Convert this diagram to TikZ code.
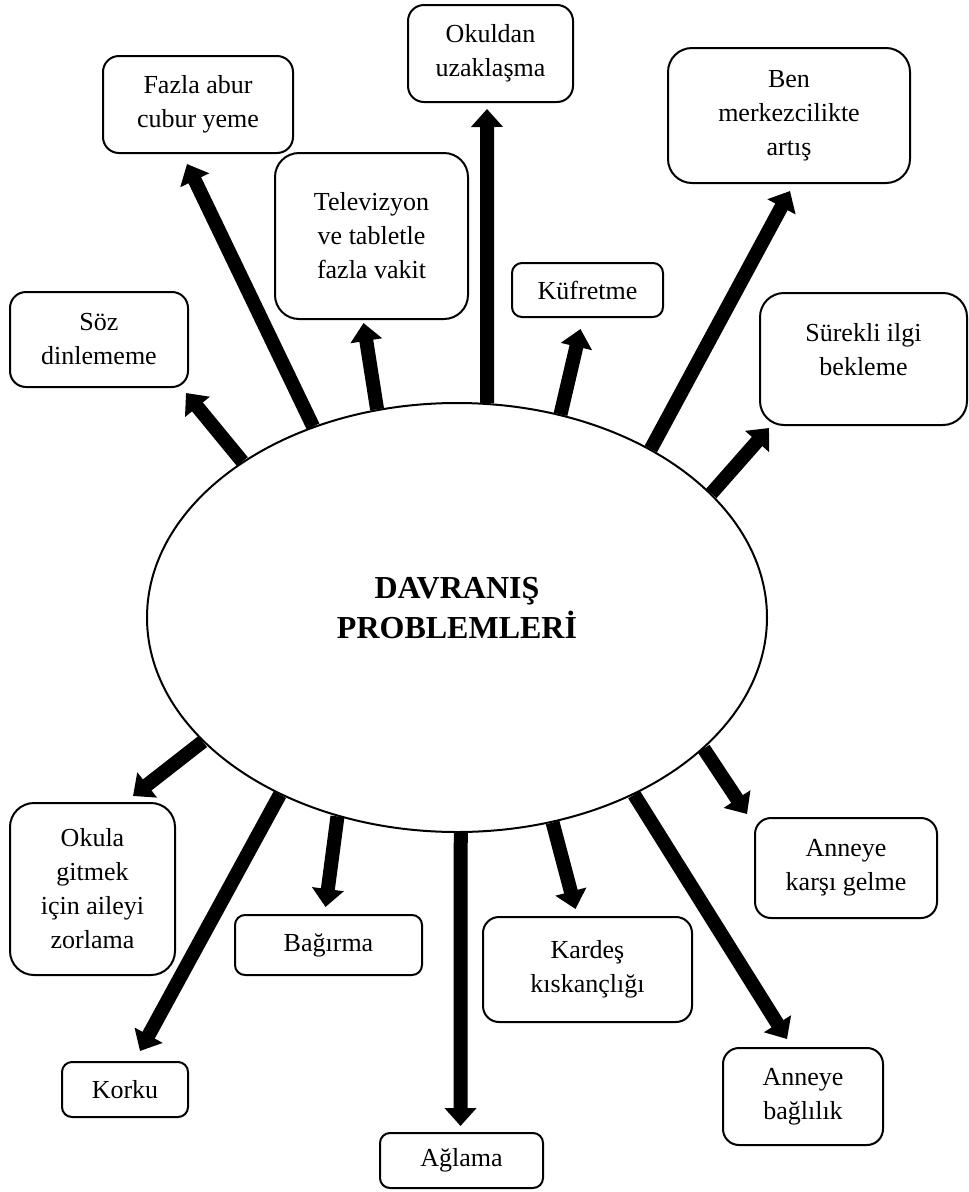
\documentclass[tikz,border=0pt]{standalone}
\usepackage{fontspec}
\setmainfont{Liberation Serif}
\usetikzlibrary{shapes.geometric,arrows.meta,backgrounds}

\begin{document}
\begin{tikzpicture}[x=1pt,y=-1pt,
        box/.style={draw, line width=2pt, rounded corners=16pt, align=center, inner sep=0pt, font=\fontsize{26}{34}\selectfont},
        bigbox/.style={box, rounded corners=24pt},
        smallbox/.style={box, rounded corners=10pt},
        arr/.style={-{Triangle[length=18pt,width=31pt]}, line width=14pt}
    ]
        \useasboundingbox (0,0) rectangle (969,1192);

        % Centre
        \node[ellipse, draw, line width=2pt, fill=white, minimum width=620pt, minimum height=429pt, inner sep=0pt, align=center, font=\fontsize{32}{40}\selectfont\bfseries] (davranis) at (457,617.5) {DAVRANIŞ\\PROBLEMLERİ\\[-20pt]\mbox{}};

        % Upper boxes
        \node[box, minimum width=178pt, minimum height=95pt] (soz) at (99,339.5) {Söz\\dinlememe};
        \node[box, minimum width=190pt, minimum height=97pt] (fazla) at (198,104.5) {Fazla abur\\cubur yeme};
        \node[bigbox, minimum width=193pt, minimum height=166pt] (tv) at (371.5,236) {Televizyon\\ve tabletle\\fazla vakit};
        \node[box, minimum width=165pt, minimum height=97pt] (okuldan) at (490.5,53.5) {Okuldan\\uzaklaşma};
        \node[smallbox, minimum width=151pt, minimum height=54pt] (kufur) at (587.5,290) {Küfretme};
        \node[bigbox, minimum width=242pt, minimum height=135pt] (ben) at (789,115.5) {Ben\\merkezcilikte\\artış};
        \node[bigbox, minimum width=207pt, minimum height=132pt] (ilgi) at (863.5,359) {Sürekli ilgi\\bekleme\\[-14pt]\mbox{}};

        % Lower boxes
        \node[bigbox, minimum width=165pt, minimum height=172pt] (okula) at (92.5,889) {Okula\\gitmek\\için aileyi\\zorlama};
        \node[smallbox, minimum width=126pt, minimum height=55pt] (korku) at (125,1089.5) {Korku};
        \node[smallbox, minimum width=187pt, minimum height=60pt] (bagirma) at (328.5,945) {Bağırma};
        \node[smallbox, minimum width=163pt, minimum height=55pt] (aglama) at (461.5,1160.5) {Ağlama};
        \node[box, minimum width=209pt, minimum height=105pt] (kardes) at (587.5,969.5) {Kardeş\\kıskançlığı};
        \node[box, minimum width=160pt, minimum height=97pt] (baglilik) at (803,1096.5) {Anneye\\bağlılık};
        \node[box, minimum width=182pt, minimum height=100pt] (karsi) at (846,868) {Anneye\\karşı gelme};

        % Arrows
        \begin{scope}[on background layer]
        \draw[arr] (davranis.144) -- ([xshift=-3pt,yshift=-5pt]soz.south east);
        \draw[arr] (davranis.127) -- ([xshift=-11pt,yshift=-10pt]fazla.south);
        \draw[arr] (davranis.111) -- ([xshift=-8pt,yshift=-3pt]tv.south);
        \draw[arr] (davranis.82) -- ([xshift=-3.5pt,yshift=-6pt]okuldan.south);
        \draw[arr] (davranis.63) -- ([xshift=-7pt,yshift=-11pt]kufur.south);
        \draw[arr] (davranis.41) -- ([xshift=1pt,yshift=-7pt]ben.south);
        \draw[arr] (davranis.26) -- ([xshift=10pt,yshift=-2pt]ilgi.south west);
        \draw[arr] (davranis.-28) -- ([xshift=-7pt,yshift=3pt]karsi.north west);
        \draw[arr] (davranis.-45) -- ([xshift=-16pt,yshift=8pt]baglilik.north);
        \draw[arr] (davranis.-65) -- ([xshift=-12pt,yshift=7pt]kardes.north);
        \draw[arr] (davranis.-89) -- ([xshift=-1pt,yshift=6pt]aglama.north);
        \draw[arr] (davranis.-121) -- ([xshift=-3pt,yshift=7pt]bagirma.north);
        \draw[arr] (davranis.-135) -- ([xshift=15pt,yshift=10pt]korku.north);
        \draw[arr] (davranis.-154) -- ([xshift=-43pt,yshift=6pt]okula.north east);
        \end{scope}

    \end{tikzpicture}
\end{document}
